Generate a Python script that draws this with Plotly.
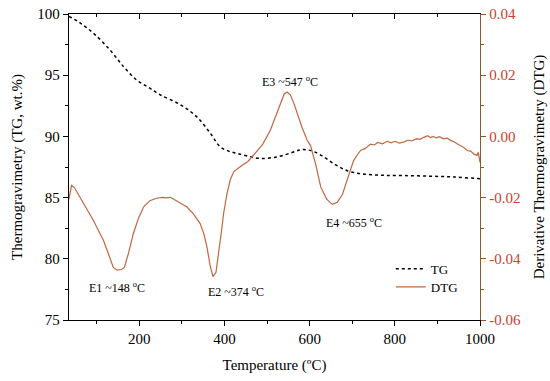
import plotly.graph_objects as go

# TG curve (left axis)
tg_temp = [35, 60, 92, 131, 163, 194, 222, 249, 296, 335, 367, 390, 410, 430, 460, 484,
           524, 560, 578, 594, 610, 633, 660, 688, 720, 767, 820, 884, 940, 994, 1000]
tg_val = [99.8, 99.3, 98.44, 97.07, 95.7, 94.6, 94.0, 93.4, 92.6, 91.6, 90.25, 89.15, 88.8,
          88.6, 88.35, 88.2, 88.33, 88.7, 88.9, 88.9, 88.75, 88.33, 87.7, 87.2, 86.95,
          86.83, 86.8, 86.75, 86.68, 86.56, 86.55]

# DTG curve (right axis)
dtg_temp = [35, 41, 48, 61, 75, 92, 105, 116, 128, 139, 148, 158, 165, 175, 186, 198, 210,
            225, 240, 255, 263, 273, 288, 300, 312, 328, 343, 352, 359, 366, 373, 380, 387,
            393, 398, 406, 414, 422, 441, 455, 469, 490, 508, 520, 531, 540, 547, 555, 563,
            571, 582, 594, 602, 614, 626, 640, 653, 665, 677, 688, 695, 703, 712, 720, 730,
            743, 752, 760, 771, 782, 791, 800, 811, 822, 831, 840, 850, 860, 868, 877, 884,
            890, 897, 905, 914, 923, 931, 940, 948, 955, 962, 970, 978, 986, 993, 996, 998, 1000]
dtg_val = [-0.0205, -0.0160, -0.0168, -0.0198, -0.0235, -0.0274, -0.0310, -0.0340, -0.0385,
           -0.0428, -0.0437, -0.0435, -0.0428, -0.0380, -0.0318, -0.0268, -0.0231, -0.0210,
           -0.0202, -0.0199, -0.0201, -0.0199, -0.0211, -0.0220, -0.0231, -0.0255, -0.0285,
           -0.0320, -0.0362, -0.0420, -0.0458, -0.0445, -0.0380, -0.0310, -0.0252, -0.0187,
           -0.0140, -0.0115, -0.0095, -0.0082, -0.0060, -0.0025, 0.0021, 0.0065, 0.0108,
           0.0138, 0.0145, 0.0135, 0.0108, 0.0075, 0.0030, -0.0012, -0.0030, -0.0090,
           -0.0165, -0.0205, -0.0222, -0.0215, -0.0190, -0.0143, -0.0110, -0.0080, -0.0060,
           -0.0045, -0.0040, -0.0025, -0.0028, -0.0020, -0.0024, -0.0016, -0.0021, -0.0016,
           -0.0022, -0.0018, -0.0012, -0.0015, -0.0008, -0.0009, -0.0003, 0.0002, -0.0004,
           0.0000, -0.0005, -0.0001, -0.0008, -0.0006, -0.0013, -0.0018, -0.0026, -0.0032,
           -0.0036, -0.0046, -0.0048, -0.0058, -0.0062, -0.0052, -0.0078, -0.0085]

x_ticks = [200, 400, 600, 800, 1000]
y_ticks = [75, 80, 85, 90, 95, 100]
y2_ticks = [-0.06, -0.04, -0.02, 0.00, 0.02, 0.04]
y2_ticktext = ["-0.06", "-0.04", "-0.02", "0.00", "0.02", "0.04"]

ann_text = ["E1 ~148 <sup>o</sup>C", "E2 ~374 <sup>o</sup>C", "E3 ~547 <sup>o</sup>C", "E4 ~655 <sup>o</sup>C"]
ann_x = [147, 426, 553, 703]
ann_y = [-0.0493, -0.0507, 0.0179, -0.0280]

FONT = "Liberation Serif"
DTG_COLOR = "#c0673f"
AXIS_BROWN = "#8a5a2c"
LABEL_RED = "#c8402e"

fig = go.Figure()
fig.add_trace(go.Scatter(x=tg_temp, y=tg_val, mode="lines", name="TG",
                         line=dict(color="black", width=1.5, dash="dot", shape="spline"),
                         yaxis="y", legend="legend"))
fig.add_trace(go.Scatter(x=dtg_temp, y=dtg_val, mode="lines", name="DTG",
                         line=dict(color=DTG_COLOR, width=1.2),
                         yaxis="y2", legend="legend2"))
# invisible trace to carry the top axis
fig.add_trace(go.Scatter(x=[tg_temp[0]], y=[tg_val[0]], mode="markers", xaxis="x2",
                         marker=dict(opacity=0), showlegend=False, hoverinfo="skip"))

for t, x, y in zip(ann_text, ann_x, ann_y):
    fig.add_annotation(text=t, x=x, y=y, xref="x", yref="y2", showarrow=False,
                       font=dict(family=FONT, size=12, color="black"))

leg_common = dict(xanchor="left", yanchor="middle", bgcolor="rgba(0,0,0,0)",
                  font=dict(family=FONT, size=13), itemwidth=30)

fig.update_layout(
    width=550, height=381,
    margin=dict(l=69, r=70, t=14, b=61, autoexpand=False),
    paper_bgcolor="white", plot_bgcolor="white",
    font=dict(family=FONT, size=15, color="black"),
    showlegend=True,
    legend=dict(x=0.783, y=0.167, **leg_common),
    legend2=dict(x=0.783, y=0.108, **leg_common),
    xaxis=dict(range=[35, 1000], tickvals=x_ticks, ticks="outside", ticklen=5,
               tickcolor="black", showline=True, linecolor="black", linewidth=1.3,
               showgrid=False, zeroline=False, automargin=False,
               minor=dict(dtick=100, tick0=0, ticks="outside", ticklen=3, tickcolor="black"),
               title=dict(text="Temperature (ºC)", font=dict(size=15), standoff=13),
               tickfont=dict(size=15)),
    xaxis2=dict(range=[35, 1000], overlaying="x", side="top", tickvals=x_ticks,
                ticks="inside", ticklen=5, tickcolor="black", showline=True,
                linecolor="black", linewidth=1.3, showticklabels=False, showgrid=False,
                zeroline=False, anchor="y", automargin=False,
                minor=dict(dtick=100, tick0=0, ticks="inside", ticklen=3, tickcolor="black")),
    yaxis=dict(range=[75, 100], tickvals=y_ticks, ticks="outside", ticklen=5,
               tickcolor="black", showline=True, linecolor="black", linewidth=1.3,
               showgrid=False, zeroline=False, automargin=False,
               minor=dict(dtick=2.5, tick0=75, ticks="outside", ticklen=3, tickcolor="black"),
               title=dict(text="Thermogravimetry (TG, wt.%)", font=dict(size=15), standoff=11),
               tickfont=dict(size=15)),
    yaxis2=dict(range=[-0.06, 0.04], overlaying="y", side="right", tickvals=y2_ticks,
                ticktext=y2_ticktext, ticks="outside", ticklen=5, tickcolor=AXIS_BROWN,
                showline=True, linecolor=AXIS_BROWN, linewidth=1.3, showgrid=False,
                zeroline=False, automargin=False,
                minor=dict(dtick=0.01, tick0=0, ticks="outside", ticklen=3, tickcolor=AXIS_BROWN),
                tickfont=dict(size=15, color=LABEL_RED),
                title=dict(text="Derivative Thermogravimetry (DTG)", font=dict(size=15, color="black"),
                           standoff=13)),
)

# remove the default 8px page margin so the figure sits at the window origin
fig.write_html("out.html", config={"displayModeBar": False},
               post_script="document.body.style.margin='0px';")
